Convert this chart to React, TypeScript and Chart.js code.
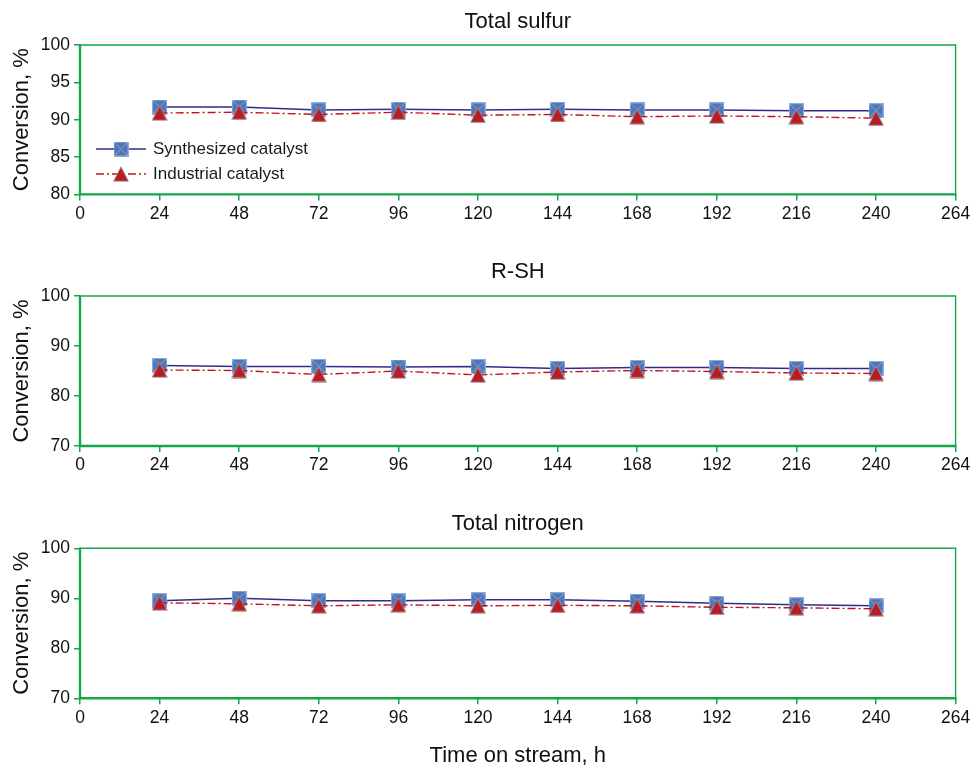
import React, { useEffect, useRef } from 'react';
import { Chart, registerables } from 'chart.js';

Chart.register(...registerables);

// ---------- data ----------
const hours = [24, 48, 72, 96, 120, 144, 168, 192, 216, 240];

const sulfurSynthesized = [91.7, 91.7, 91.3, 91.4, 91.3, 91.4, 91.3, 91.3, 91.2, 91.2];
const sulfurIndustrial = [90.9, 91.0, 90.7, 91.0, 90.6, 90.7, 90.4, 90.5, 90.4, 90.2];

const rshSynthesized = [86.1, 85.9, 85.9, 85.8, 85.9, 85.5, 85.7, 85.7, 85.5, 85.5];
const rshIndustrial = [85.2, 85.1, 84.3, 85.0, 84.2, 84.8, 85.1, 84.9, 84.6, 84.5];

const nitrogenSynthesized = [89.5, 90.0, 89.5, 89.5, 89.7, 89.7, 89.4, 89.0, 88.7, 88.5];
const nitrogenIndustrial = [89.1, 88.9, 88.5, 88.7, 88.5, 88.6, 88.5, 88.2, 88.1, 87.9];

const panelTitles = ['Total sulfur', 'R-SH', 'Total nitrogen'];
const seriesNames = ['Synthesized catalyst', 'Industrial catalyst'];
const xAxisTitle = 'Time on stream, h';
const yAxisTitle = 'Conversion, %';

// ---------- styles ----------
const FONT = "'Liberation Sans', Arial, sans-serif";
const GREEN = '#14a64a';
const NAVY = '#2e2d8a';
const RED = '#c0141c';

let squareImg: HTMLCanvasElement | null = null;
let triangleImg: HTMLCanvasElement | null = null;

function getSquare() {
  if (squareImg) return squareImg;
  const c = document.createElement('canvas');
  c.width = 15;
  c.height = 15;
  const g = c.getContext('2d')!;
  g.fillStyle = '#4a77c0';
  g.fillRect(0.5, 0.5, 14, 14);
  g.strokeStyle = '#8faad8';
  g.lineWidth = 1;
  g.strokeRect(0.5, 0.5, 14, 14);
  g.strokeStyle = '#a3a3a3';
  g.lineWidth = 1;
  g.beginPath();
  g.moveTo(1, 1);
  g.lineTo(14, 14);
  g.moveTo(14, 1);
  g.lineTo(1, 14);
  g.stroke();
  squareImg = c;
  return c;
}

function getTriangle() {
  if (triangleImg) return triangleImg;
  const c = document.createElement('canvas');
  c.width = 16;
  c.height = 16;
  const g = c.getContext('2d')!;
  g.beginPath();
  g.moveTo(8, 0.8);
  g.lineTo(15.4, 15.2);
  g.lineTo(0.6, 15.2);
  g.closePath();
  g.fillStyle = '#b81d25';
  g.fill();
  g.strokeStyle = '#9a9a9a';
  g.lineWidth = 0.8;
  g.stroke();
  triangleImg = c;
  return c;
}

const INDUSTRIAL_DASH = [8, 3, 2, 3];

type PanelProps = {
  title: string;
  synth: number[];
  ind: number[];
  yMin: number;
  yMax: number;
  yStep: number;
  height: number;
  plotTop: number;
  plotBottom: number;
  showLegend: boolean;
  showXTitle: boolean;
  top: number;
};

const framePlugin = {
  id: 'frame',
  afterDraw(chart: any) {
    const { ctx, chartArea: a } = chart;
    ctx.save();
    ctx.strokeStyle = GREEN;
    ctx.lineWidth = 1.4;
    ctx.beginPath();
    ctx.moveTo(a.left, a.top);
    ctx.lineTo(a.right, a.top);
    ctx.lineTo(a.right, a.bottom);
    ctx.stroke();
    ctx.lineWidth = 2.4;
    ctx.beginPath();
    ctx.moveTo(a.left, a.top - 0.7);
    ctx.lineTo(a.left, a.bottom);
    ctx.lineTo(a.right + 0.7, a.bottom);
    ctx.stroke();
    ctx.restore();
  },
};

const makeLegendPlugin = (show: boolean) => ({
  id: 'customLegend',
  afterDraw(chart: any) {
    if (!show) return;
    const { ctx } = chart;
    const rows = [
      { y: 149, color: NAVY, dash: [] as number[], img: getSquare(), label: seriesNames[0] },
      { y: 174, color: RED, dash: INDUSTRIAL_DASH, img: getTriangle(), label: seriesNames[1] },
    ];
    ctx.save();
    rows.forEach((r) => {
      ctx.strokeStyle = r.color;
      ctx.lineWidth = 1.4;
      ctx.setLineDash(r.dash);
      ctx.beginPath();
      ctx.moveTo(96, r.y);
      ctx.lineTo(146, r.y);
      ctx.stroke();
      ctx.setLineDash([]);
      ctx.drawImage(r.img, 121 - r.img.width / 2, r.y - r.img.height / 2);
      ctx.fillStyle = '#1a1a1a';
      ctx.font = `17px ${FONT}`;
      ctx.textBaseline = 'middle';
      ctx.textAlign = 'left';
      ctx.fillText(r.label, 153, r.y + 0.5);
    });
    ctx.restore();
  },
});

function Panel(p: PanelProps) {
  const ref = useRef<HTMLCanvasElement | null>(null);
  useEffect(() => {
    if (!ref.current) return;
    const titleLine = 22 * 1.2;
    const titlePadTop = 8.5;
    const titlePadBottom = p.plotTop - titlePadTop - titleLine;
    const xAxisHeight = p.height - p.plotBottom;
    const chart = new Chart(ref.current, {
      type: 'line',
      data: {
        datasets: [
          {
            label: seriesNames[0],
            data: hours.map((h, i) => ({ x: h, y: p.synth[i] })),
            borderColor: NAVY,
            borderWidth: 1.4,
            pointStyle: getSquare(),
            pointRadius: 7,
            tension: 0,
            order: 2,
          },
          {
            label: seriesNames[1],
            data: hours.map((h, i) => ({ x: h, y: p.ind[i] })),
            borderColor: RED,
            borderWidth: 1.4,
            borderDash: INDUSTRIAL_DASH,
            pointStyle: getTriangle(),
            pointRadius: 7,
            tension: 0,
            order: 1,
          },
        ],
      },
      options: {
        animation: false,
        responsive: false,
        maintainAspectRatio: false,
        layout: { padding: { left: 0, right: 15.4, top: 0, bottom: 0 } },
        plugins: {
          legend: { display: false },
          tooltip: { enabled: false },
          title: {
            display: true,
            text: p.title,
            color: '#111',
            fullSize: false,
            font: { family: FONT, size: 22, weight: 'normal' },
            padding: { top: titlePadTop, bottom: titlePadBottom },
          },
        },
        scales: {
          x: {
            type: 'linear',
            min: 0,
            max: 264,
            ticks: {
              stepSize: 24,
              color: '#111',
              font: { family: FONT, size: 17.5 },
              padding: 3,
              maxRotation: 0,
              autoSkip: false,
            },
            grid: {
              display: true,
              drawOnChartArea: false,
              drawTicks: true,
              tickLength: 6,
              color: GREEN,
              lineWidth: 1.5,
            },
            border: { display: false },
            title: {
              display: p.showXTitle,
              text: xAxisTitle,
              color: '#111',
              font: { family: FONT, size: 22 },
              padding: { top: 0, bottom: -2 },
            },
            afterFit: (s: any) => {
              s.height = xAxisHeight;
              s.paddingLeft = 0;
              s.paddingRight = 0;
            },
          },
          y: {
            type: 'linear',
            min: p.yMin,
            max: p.yMax,
            ticks: {
              stepSize: p.yStep,
              color: '#111',
              font: { family: FONT, size: 17.5 },
              padding: 4,
            },
            grid: {
              display: true,
              drawOnChartArea: false,
              drawTicks: true,
              tickLength: 6,
              color: GREEN,
              lineWidth: 1.5,
            },
            border: { display: false },
            title: {
              display: true,
              text: yAxisTitle,
              color: '#111',
              font: { family: FONT, size: 22 },
              padding: { top: 9, bottom: 0 },
            },
            afterFit: (s: any) => {
              s.width = 80;
            },
          },
        },
      },
      plugins: [framePlugin, makeLegendPlugin(p.showLegend)],
    } as any);
    return () => chart.destroy();
  }, []);
  return (
    <canvas
      ref={ref}
      width={971}
      height={p.height}
      style={{ position: 'absolute', left: 0, top: p.top, width: 971, height: p.height, display: 'block' }}
    />
  );
}

export default function App() {
  return (
    <div style={{ position: 'absolute', left: 0, top: 0, width: 971, height: 767, background: '#fff', overflow: 'hidden' }}>
      <Panel title={panelTitles[0]} synth={sulfurSynthesized} ind={sulfurIndustrial}
        yMin={80} yMax={100} yStep={5} top={0} height={250} plotTop={45} plotBottom={194.4}
        showLegend={true} showXTitle={false} />
      <Panel title={panelTitles[1]} synth={rshSynthesized} ind={rshIndustrial}
        yMin={70} yMax={100} yStep={10} top={250} height={252} plotTop={46} plotBottom={196}
        showLegend={false} showXTitle={false} />
      <Panel title={panelTitles[2]} synth={nitrogenSynthesized} ind={nitrogenIndustrial}
        yMin={70} yMax={100} yStep={10} top={502} height={265} plotTop={46.3} plotBottom={196.3}
        showLegend={false} showXTitle={true} />
    </div>
  );
}
